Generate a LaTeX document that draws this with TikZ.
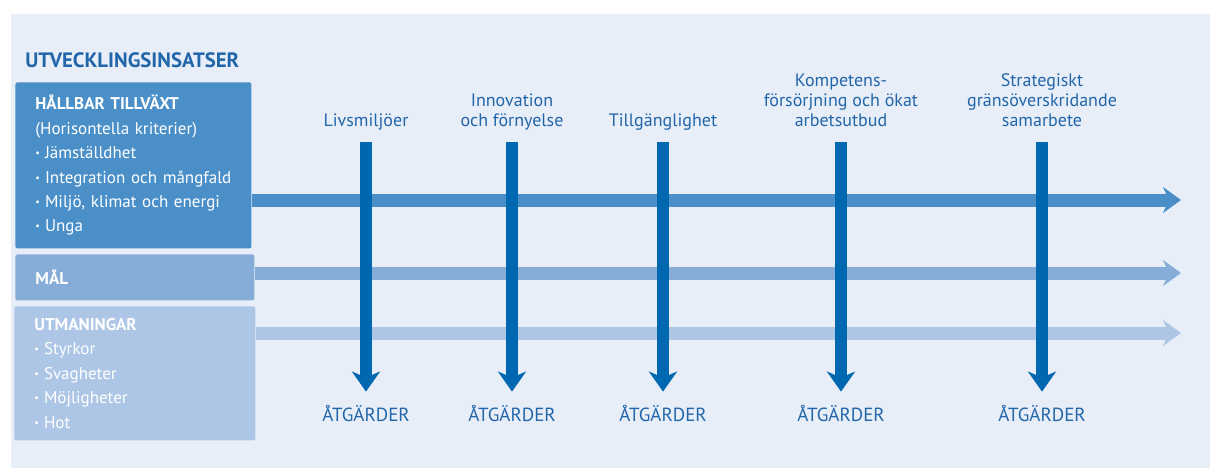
\documentclass[tikz,border=0pt]{standalone}
\usepackage{fontspec}
\usepackage{graphicx}
\setmainfont{PT Sans}
\usetikzlibrary{arrows.meta, positioning}

\definecolor{bgblue}{HTML}{E8EEF8}
\definecolor{boxA}{HTML}{4A8FC8}
\definecolor{boxB}{HTML}{86ADD8}
\definecolor{boxC}{HTML}{ADC6E6}
\definecolor{darkblue}{HTML}{0068B0}
\definecolor{textblue}{HTML}{2266AA}

\newcommand{\bul}{\raisebox{.12em}{\scalebox{.6}{\textbullet}}\hspace{2.5pt}}

\tikzset{
	box/.style={anchor=north west, rounded corners=1pt, text=white, align=left,
		font=\fontsize{8.5}{12.2}\selectfont, inner xsep=10pt, inner ysep=0pt},
	topic/.style={anchor=south, align=center, inner sep=0pt, text=textblue,
		font=\fontsize{9}{10}\selectfont, execute at end node=\strut},
	action/.style={anchor=base, inner sep=0pt, text height=7.5pt, text=textblue,
		font=\fontsize{9.5}{10}\selectfont},
	harrow/.style={line width=6.5pt, -{Stealth[length=9pt, width=13pt, inset=3pt]}},
	varrow/.style={line width=6.3pt, darkblue, shorten <=4.5pt, shorten >=7pt,
		-{Stealth[length=10pt, width=14pt, inset=3pt]}}
}

\begin{document}
\begin{tikzpicture}[x=0.5pt, y=-0.5pt]
		\useasboundingbox (0,0) rectangle (1210,468);
		\fill[bgblue] (11,14) rectangle (1210,468);

		\node[anchor=base west, inner sep=0pt, text=textblue, font=\fontsize{10.4}{11}\selectfont\bfseries]
			(title) at (25,67) {UTVECKLINGSINSATSER};

		% vänsterkolumnen
		\node[box, fill=boxA, text width=98pt, minimum height=83pt] (hallbar) at (15,82)
			{\textbf{HÅLLBAR TILLVÄXT}\\(Horisontella kriterier)\\\bul Jämställdhet\\
			 \bul Integration och mångfald\\\bul Miljö, klimat och energi\\\bul Unga};
		\node[box, fill=boxB, text width=99.5pt, minimum height=23pt] (mal) at (15,254)
			{\textbf{MÅL}};
		\node[box, fill=boxC, text width=100.5pt, minimum height=67pt] (utman) at (14,306)
			{\textbf{UTMANINGAR}\\\bul Styrkor\\\bul Svagheter\\\bul Möjligheter\\\bul Hot};

		\coordinate (e1) at (1181,200);
		\coordinate (e2) at (1181,273);
		\coordinate (e3) at (1181,333);

		% insatsområden
		\node[topic] 	(liv) 		at (366,133) 	{Livsmiljöer};
		\node[topic] 	(innov) 	at (512,133) 	{Innovation\\och förnyelse};
		\node[topic] 	(tillg) 	at (663,133) 	{Tillgänglighet};
		\node[topic] 	(komp) 		at (841,133) 	{Kompetens-\\försörjning och ökat\\arbetsutbud};
		\node[topic] 	(strat) 	at (1042,133) 	{Strategiskt\\gränsöverskridande\\samarbete};

		\node[action] 	(atg1) 		at (366,421) 	{ÅTGÄRDER};
		\node[action] 	(atg2) 		at (512,421) 	{ÅTGÄRDER};
		\node[action] 	(atg3) 		at (663,421) 	{ÅTGÄRDER};
		\node[action] 	(atg4) 		at (841,421) 	{ÅTGÄRDER};
		\node[action] 	(atg5) 		at (1042,421) 	{ÅTGÄRDER};

		\path[harrow]
			(hallbar.east |- e1) 	edge[boxA] 	(e1)
			(mal.east |- e2) 		edge[boxB] 	(e2)
			(utman.east |- e3) 		edge[boxC] 	(e3)
			;
		\path[varrow]
			(liv) 		edge 	(atg1)
			(innov) 	edge 	(atg2)
			(tillg) 	edge 	(atg3)
			(komp) 		edge 	(atg4)
			(strat) 	edge 	(atg5)
			;
\end{tikzpicture}
\end{document}
